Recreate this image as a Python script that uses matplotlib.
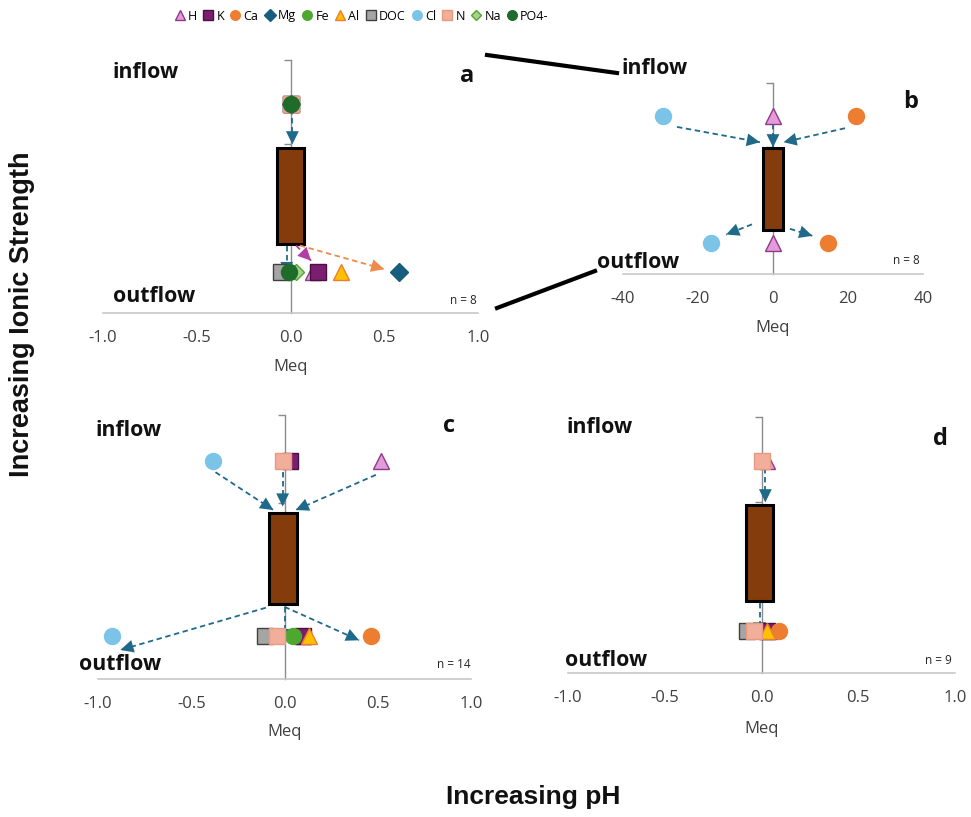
import numpy as np
import matplotlib
matplotlib.use("Agg")
import matplotlib.pyplot as plt
from matplotlib.lines import Line2D

plt.rcParams['font.family'] = ['Open Sans', 'DejaVu Sans']

W, H = 971, 817
fig = plt.figure(figsize=(W / 100, H / 100), dpi=100)

def fx(px):
    return px / W

def fy(py):
    return 1 - py / H

# ---------------- data ----------------
elements = ['H', 'K', 'Ca', 'Mg', 'Fe', 'Al', 'DOC', 'Cl', 'N', 'Na', 'PO4-']
NA = np.nan
# inflow / outflow positions (Meq) per panel, aligned with elements
a_in = [0.0, 0.0, 0.0, 0.0, 0.0, 0.0, 0.0, NA, 0.0, 0.01, 0.0]
a_out = [0.12, 0.145, NA, 0.58, -0.01, 0.27, -0.05, NA, NA, 0.03, -0.01]
b_in = [0.0, NA, 22.1, NA, NA, NA, NA, -29.3, NA, NA, NA]
b_out = [0.0, NA, 14.7, NA, NA, NA, NA, -16.5, NA, NA, NA]
c_in = [0.52, 0.03, NA, NA, NA, NA, NA, -0.385, -0.01, NA, NA]
c_out = [0.1, 0.1, 0.465, NA, 0.045, 0.13, -0.107, -0.925, -0.04, NA, NA]
d_in = [0.03, NA, NA, NA, NA, NA, NA, NA, 0.0, NA, NA]
d_out = [0.04, 0.03, 0.09, NA, NA, 0.03, -0.075, NA, -0.04, NA, NA]
n_labels = ['n = 8', 'n = 8', 'n = 14', 'n = 9']
panel_letters = ['a', 'b', 'c', 'd']
# soil box (x-center, half width, bottom, top) in axis units
boxes = [(0.0, 0.07, 0.82, 1.96), (0.0, 2.7, 0.69, 1.98),
         (-0.01, 0.075, 0.85, 1.89), (-0.01, 0.07, 0.84, 1.97)]
# arrows: (x0, y0, x1, y1, color key)
a_arrows = [(0.01, 2.42, 0.01, 2.0, 'blue'), (-0.02, 0.8, -0.02, 0.45, 'blue'),
            (0.03, 0.8, 0.11, 0.62, 'mag'), (0.05, 0.8, 0.5, 0.52, 'orange')]
b_arrows = [(-25.6, 2.31, -3.5, 2.07, 'blue'), (19.2, 2.29, 2.8, 2.07, 'blue'),
            (0.0, 2.35, 0.0, 1.99, 'blue'), (-5.6, 0.78, -12.5, 0.62, 'blue'),
            (4.5, 0.71, 10.5, 0.6, 'blue')]
c_arrows = [(-0.37, 2.35, -0.06, 1.92, 'blue'), (-0.01, 2.35, -0.01, 1.96, 'blue'),
            (0.49, 2.32, 0.06, 1.92, 'blue'), (-0.1, 0.81, -0.88, 0.33, 'blue'),
            (0.0, 0.82, 0.0, 0.42, 'blue'), (0.0, 0.82, 0.4, 0.44, 'blue')]
d_arrows = [(0.02, 2.4, 0.02, 2.0, 'blue'), (-0.01, 0.82, -0.01, 0.44, 'blue')]

Y_IN, Y_OUT = 2.48, 0.49

# ---------------- styles ----------------
style = {
    'H': dict(marker='^', mfc='#E39BDA', mec='#8E3A8A', ms=12),
    'K': dict(marker='s', mfc='#7B1E6F', mec='#4A0F43', ms=11),
    'Ca': dict(marker='o', mfc='#ED7D31', mec='#ED7D31', ms=11.5),
    'Mg': dict(marker='D', mfc='#175E7E', mec='#175E7E', ms=9.5),
    'Fe': dict(marker='o', mfc='#4EA72E', mec='#4EA72E', ms=11.5),
    'Al': dict(marker='^', mfc='#FFC000', mec='#ED7D31', ms=12),
    'DOC': dict(marker='s', mfc='#A5A5A5', mec='#404040', ms=11),
    'Cl': dict(marker='o', mfc='#7CC3E8', mec='#7CC3E8', ms=11.5),
    'N': dict(marker='s', mfc='#F1AE9A', mec='#E89A80', ms=11),
    'Na': dict(marker='D', mfc='#A9D18E', mec='#4EA72E', ms=8.5),
    'PO4-': dict(marker='o', mfc='#1E6B2A', mec='#1E6B2A', ms=11.5),
}
arrow_col = {'blue': '#1F6A8A', 'mag': '#B23FA5', 'orange': '#F08A4B'}

axes_pos = [
    (103, 60, 478, 313, (-1, 1), [-1.0, -0.5, 0.0, 0.5, 1.0], '{:.1f}'),
    (623, 83, 923, 274, (-40, 40), [-40, -20, 0, 20, 40], '{:d}'),
    (98, 415, 471, 679, (-1, 1), [-1.0, -0.5, 0.0, 0.5, 1.0], '{:.1f}'),
    (568, 417, 955, 673, (-1, 1), [-1.0, -0.5, 0.0, 0.5, 1.0], '{:.1f}'),
]
ins = [a_in, b_in, c_in, d_in]
outs = [a_out, b_out, c_out, d_out]
arrows = [a_arrows, b_arrows, c_arrows, d_arrows]

def draw_arrow(ax, x0, y0, x1, y1, col):
    ax.plot([x0, x1], [y0, y1], ls=(0, (3, 2)), lw=1.3, color=col, zorder=4)
    ax.annotate('', xy=(x1, y1), xytext=(x1 - 0.02 * (x1 - x0), y1 - 0.02 * (y1 - y0)),
                arrowprops=dict(arrowstyle='-|>,head_length=0.45,head_width=0.22',
                                color=col, lw=0, mutation_scale=21),
                zorder=5)

for i, (l, t, r, b, xl, xt, fmt) in enumerate(axes_pos):
    ax = fig.add_axes([fx(l), fy(b), fx(r) - fx(l), (b - t) / H])
    ax.set_xlim(*xl)
    ax.set_ylim(0, 3)
    ax.patch.set_alpha(0)
    for s in ['top', 'right']:
        ax.spines[s].set_visible(False)
    ax.spines['bottom'].set_color('#c8c8c8')
    ax.spines['bottom'].set_linewidth(1.2)
    ax.spines['left'].set_position(('data', 0))
    ax.spines['left'].set_color('#8c8c8c')
    ax.spines['left'].set_linewidth(1.0)
    ax.set_yticks([1, 2, 3])
    ax.set_yticklabels([])
    ax.tick_params(axis='y', length=5, color='#8c8c8c', width=1)
    ax.set_xticks(xt)
    ax.set_xticklabels([fmt.format(int(v)) if fmt == '{:d}' else fmt.format(v) for v in xt])
    ax.tick_params(axis='x', length=0, pad=12, labelsize=12, labelcolor='#404040')

    cx, hw, yb, yt = boxes[i]
    ax.add_patch(plt.Rectangle((cx - hw, yb), 2 * hw, yt - yb, facecolor='#843C0C',
                               edgecolor='black', lw=2.2, zorder=3))
    for (x0, y0, x1, y1, c) in arrows[i]:
        draw_arrow(ax, x0, y0, x1, y1, arrow_col[c])
    for k, e in enumerate(elements):
        st = style[e]
        if not np.isnan(ins[i][k]):
            ax.plot([ins[i][k]], [Y_IN], linestyle='none', zorder=6 + k * 0.01, **st)
        if not np.isnan(outs[i][k]):
            ax.plot([outs[i][k]], [Y_OUT], linestyle='none', zorder=6 + k * 0.01, **st)
    for art in ax.lines + ax.patches:
        art.set_clip_on(False)

# ---------------- text ----------------
bold = dict(fontweight='bold', color='#111111')
txt = [
    (112, 72, 'inflow'), (113, 296, 'outflow'),
    (621, 68, 'inflow'), (597, 262, 'outflow'),
    (95, 430, 'inflow'), (79, 665, 'outflow'),
    (567, 428, 'inflow'), (565, 660, 'outflow'),
]
for x, y, s in txt:
    fig.text(fx(x), fy(y), s, fontsize=15.3, ha='left', va='center', **bold)
for (x, y), s in zip([(467, 76), (911, 102), (449, 426), (940, 439)], panel_letters):
    fig.text(fx(x), fy(y), s, fontsize=17, ha='center', va='center', **bold)
for (x, y), s in zip([(477, 300), (920, 260), (471, 665), (952, 661)], n_labels):
    fig.text(fx(x), fy(y), s, fontsize=8.5, ha='right', va='center', color='#262626')
for x, y in [(291, 367), (773, 328), (285, 732), (762, 729)]:
    fig.text(fx(x), fy(y), 'Meq', fontsize=12, ha='center', va='center', color='#404040')

lab = dict(fontweight='bold', color='#111111', family=['Liberation Sans', 'DejaVu Sans'])
fig.text(fx(22), fy(314), 'Increasing Ionic Strength', rotation=90, fontsize=19.5,
         ha='center', va='center', **lab)
fig.text(fx(533), fy(797), 'Increasing pH', fontsize=19, ha='center', va='center', **lab)

# connector lines
fig.add_artist(Line2D([fx(487), fx(617)], [fy(55), fy(73)], color='black', lw=3))
fig.add_artist(Line2D([fx(497), fx(595)], [fy(308), fy(271)], color='black', lw=3))

# legend
handles = []
for e in elements:
    st = dict(style[e])
    st['ms'] = st['ms'] * 0.6
    handles.append(Line2D([], [], linestyle='none', **st))
fig.legend(handles, elements, loc='center', bbox_to_anchor=(fx(361), fy(16)), ncol=11,
           frameon=False, fontsize=9, handletextpad=0.15, columnspacing=0.4,
           handlelength=1.0, borderpad=0)

fig.savefig('out.png', dpi=100)
